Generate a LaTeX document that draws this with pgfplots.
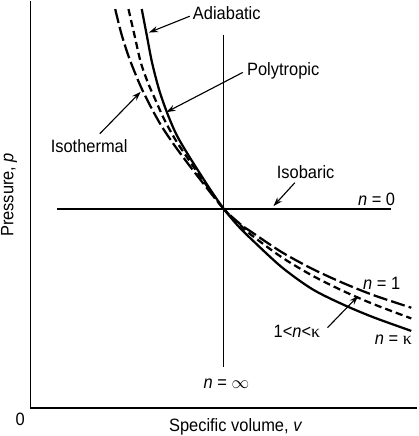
\documentclass[border=0pt]{standalone}
\usepackage{pgfplots}
\pgfplotsset{compat=1.18}
\usepackage{fontspec}
\setmainfont[FakeStretch=0.92]{Liberation Sans}
\newfontfamily\greekfont{Liberation Serif}
\usetikzlibrary{arrows.meta}
\tikzset{lbl/.style={font=\fontsize{17.5}{21}\selectfont, inner sep=1pt}}
\begin{document}
\fontsize{17.5}{21}\selectfont
\begin{tikzpicture}
\begin{axis}[
  width=413pt, height=436pt, scale only axis,
  xmin=0, xmax=413, ymin=0, ymax=436, y dir=reverse,
  axis lines=none, clip=false]
% axes
\addplot[line width=1.8pt] coordinates {(34,8) (34,407) (413,407)};
% isobaric and isochoric lines
\addplot[line width=1.2pt] coordinates {(60,211.7) (387,211.7)};
\addplot[line width=1.2pt] coordinates {(223.3,41) (223.3,367)};
% isothermal n = 1 (long dashes)
\addplot[line width=2.2pt, smooth, dash pattern=on 14pt off 4pt] coordinates {
(117,16) (123,40) (130,62) (137,80) (143,94) (152,112) (162,130) (174,148)
(188,167) (205,189) (223.3,211.7) (240,227) (250,234) (280,254) (310,270.4)
(340,284.2) (370,296.2) (407,308.5)};
% polytropic 1<n<kappa (short dashes)
\addplot[line width=2.2pt, smooth, dash pattern=on 7pt off 4pt] coordinates {
(130,16) (136,42) (142,68) (149,88) (156,104) (165,124) (176,144) (190,165)
(206,188) (223.3,211.7) (240,228) (250,237) (280,259) (310,277) (340,292)
(370,305) (407,319)};
% adiabatic n = kappa (solid)
\addplot[line width=2.2pt, smooth] coordinates {
(143,16) (148,42) (153,68) (160,95) (168,118) (177,139) (188,158) (200,177)
(211,194) (223.3,211.7) (237,228) (250,241) (280,268.7) (310,290.3)
(340,305.3) (370,317.9) (407,331.2)};
% labels and arrows
\node[lbl,anchor=west] at (axis cs:192,20) {Adiabatic};
\draw[line width=1.1pt,-{Stealth[length=9pt,width=6pt]}] (axis cs:190,23) -- (axis cs:150,39);
\node[lbl,anchor=west] at (axis cs:245,77) {Polytropic};
\draw[line width=1.1pt,-{Stealth[length=9pt,width=6pt]}] (axis cs:242,78) -- (axis cs:167,117);
\node[lbl] at (axis cs:91.5,150) {Isothermal};
\draw[line width=1.1pt,-{Stealth[length=9pt,width=6pt]}] (axis cs:102,138) -- (axis cs:142,97);
\node[lbl] at (axis cs:303.5,176) {Isobaric};
\draw[line width=1.1pt,-{Stealth[length=9pt,width=6pt]}] (axis cs:293,186) -- (axis cs:272,209);
\node[lbl] at (axis cs:373,202) {\textit{n} = 0};
\node[lbl] at (axis cs:226,383) {\textit{n} = $\infty$};
\node[lbl] at (axis cs:378,285) {\textit{n} = 1};
\node[lbl] at (axis cs:295,332) {1<\textit{n}<{\greekfont κ}};
\draw[line width=1.1pt,-{Stealth[length=9pt,width=6pt]}] (axis cs:325,328) -- (axis cs:355,297);
\node[lbl] at (axis cs:389.5,340) {\textit{n} = {\greekfont κ}};
\node[lbl] at (axis cs:24,418) {0};
\node[lbl] at (axis cs:235,425) {Specific volume, \textit{v}};
\node[lbl,rotate=90] at (axis cs:13,198) {Pressure, \textit{p}};
\end{axis}
\end{tikzpicture}
\end{document}
